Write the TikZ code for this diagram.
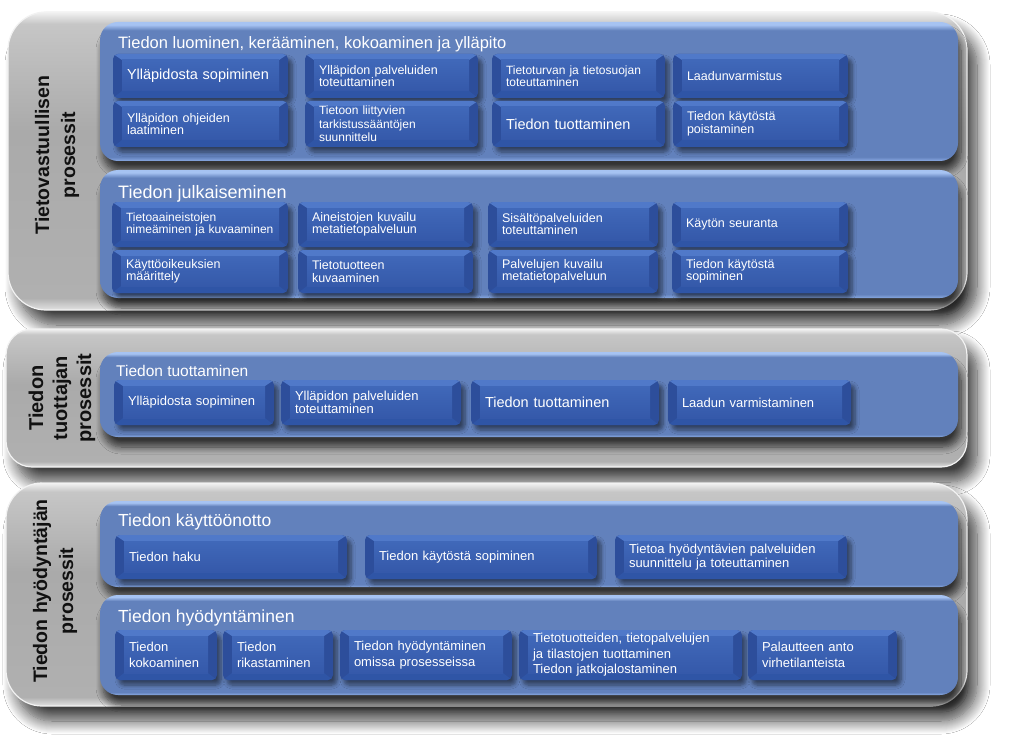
\documentclass[tikz,border=0pt]{standalone}
\usepackage{fontspec}
\setmainfont{Liberation Sans}
\usetikzlibrary{shadows.blur}

\definecolor{gpRim}{HTML}{F2F2F2}
\definecolor{gpTop}{HTML}{C6C6C6}
\definecolor{gpMid}{HTML}{AAAAAA}
\definecolor{gpLow}{HTML}{B0B0B0}
\definecolor{gpBot}{HTML}{E2E2E2}
\definecolor{spMid}{HTML}{6281BC}
\definecolor{spHi}{HTML}{A6C3F2}
\definecolor{spBot}{HTML}{8AAAE2}
\definecolor{bxTop}{HTML}{5079C9}
\definecolor{bxBot}{HTML}{2F55A6}
\definecolor{bxSide}{HTML}{2D4E9B}
\definecolor{bxFaceT}{HTML}{4068B9}
\definecolor{bxFaceB}{HTML}{3559AA}
\definecolor{lblText}{HTML}{111111}

\pgfdeclareverticalshading{graypanel}{100bp}{color(0bp)=(gpBot); color(25bp)=(gpBot); color(27bp)=(gpLow); color(55bp)=(gpMid); color(73bp)=(gpTop); color(75bp)=(gpRim); color(100bp)=(gpRim)}
\pgfdeclareverticalshading{bluepanel}{100bp}{color(0bp)=(spBot); color(25bp)=(spBot); color(26.5bp)=(spMid); color(72bp)=(spMid); color(74bp)=(spHi); color(75bp)=(spHi); color(100bp)=(spHi)}

\newcommand{\fsz}[2]{\fontsize{#1}{#2}\selectfont}
% \pcbox[options]{name}{left}{right}{ycenter}{height}{text}
\newcommand{\pcbox}[7][]{%
  \pgfmathsetmacro\pcbw{#4-#3}%
  \pgfmathsetmacro\pcbx{(#3+#4)/2}%
  \pgfmathsetmacro\pcbt{#4-#3-28}%
  \node[pbox, font=\fsz{12.5}{12.5}, #1, minimum width=\pcbw pt, minimum height=#6pt, text width=\pcbt pt] (#2) at (\pcbx,#5) {#7};%
}

\tikzset{
  gpanel/.style={shading=graypanel, draw=gpRim, line width=1.2pt,
    blur shadow={shadow xshift=10pt, shadow yshift=-15pt, shadow blur radius=13pt, shadow blur steps=14, shadow opacity=75}},
  spanel/.style={shading=bluepanel, rounded corners=18pt,
    blur shadow={shadow xshift=3pt, shadow yshift=-10pt, shadow blur radius=7pt, shadow blur steps=9, shadow opacity=70}},
  pbox/.style={rounded corners=5pt, fill=bxSide, text=white, align=left, inner xsep=14pt, inner ysep=1pt,
    blur shadow={shadow xshift=4pt, shadow yshift=-5pt, shadow blur radius=4pt, shadow blur steps=6, shadow opacity=50},
    path picture={
      \coordinate (q1) at (path picture bounding box.north west);
      \coordinate (q2) at (path picture bounding box.north east);
      \coordinate (q3) at (path picture bounding box.south east);
      \coordinate (q4) at (path picture bounding box.south west);
      \fill[bxTop, sharp corners] (q1) -- (q2) -- ([xshift=-9pt,yshift=-6pt]q2) -- ([xshift=9pt,yshift=-6pt]q1) -- cycle;
      \fill[bxBot, sharp corners] (q4) -- (q3) -- ([xshift=-9pt,yshift=7pt]q3) -- ([xshift=9pt,yshift=7pt]q4) -- cycle;
      \shade[sharp corners, top color=bxFaceT, bottom color=bxFaceB] ([xshift=9pt,yshift=-6pt]q1) rectangle ([xshift=-9pt,yshift=7pt]q3);
    }},
  ptitle/.style={anchor=west, inner sep=0pt, text=white},
  vlabel/.style={rotate=90, align=center, text=lblText, inner sep=0pt, font=\bfseries\fsz{19.5}{26}}
}

\begin{document}
\begin{tikzpicture}[x=1pt,y=-1pt]
\useasboundingbox[fill=white] (0,0) rectangle (1019,754);

% outer grey panels
\node[gpanel, rounded corners=38pt, minimum width=959pt, minimum height=298pt] (g1) at (487.5,161) {};
\node[gpanel, rounded corners=26pt, minimum width=961pt, minimum height=138pt] (g2) at (486.5,398) {};
\node[gpanel, rounded corners=36pt, minimum width=961pt, minimum height=223pt] (g3) at (486.5,594.5) {};

% blue sub panels
\node[spanel, minimum width=858pt, minimum height=139pt] (p1a) at (529,91.5) {};
\node[spanel, minimum width=858pt, minimum height=128pt] (p1b) at (529,234) {};
\node[spanel, minimum width=858pt, minimum height=85pt] (p2a) at (529,394.5) {};
\node[spanel, minimum width=858pt, minimum height=86pt] (p3a) at (529,544) {};
\node[spanel, minimum width=858pt, minimum height=100pt] (p3b) at (529,645) {};

% vertical labels
\node[vlabel] (l1) at (57,155) {Tietovastuullisen\\prosessit};
\node[vlabel, font=\bfseries\fsz{20}{24}] (l2) at (62,398) {Tiedon\\tuottajan\\prosessit};
\node[vlabel] (l3) at (55,591) {Tiedon hyödyntäjän\\prosessit};

% titles
\node[ptitle, font=\fsz{16.5}{18}] (t1a) at (118,44.5) {Tiedon luominen, kerääminen, kokoaminen ja ylläpito};
\node[ptitle, font=\fsz{18}{20}] (t1b) at (118,194) {Tiedon julkaiseminen};
\node[ptitle, font=\fsz{15.5}{18}] (t2a) at (116,371) {Tiedon tuottaminen};
\node[ptitle, font=\fsz{17.5}{20}] (t3a) at (118,522) {Tiedon käyttöönotto};
\node[ptitle, font=\fsz{17.5}{20}] (t3b) at (118,618) {Tiedon hyödyntäminen};

% panel 1a boxes
\pcbox[font=\fsz{14.5}{16}]{b11}{113}{288}{76}{44}{Ylläpidosta sopiminen}
\pcbox{b12}{305}{478}{76}{44}{Ylläpidon palveluiden\\toteuttaminen}
\pcbox[font=\fsz{12}{12}]{b13}{492}{665}{76}{44}{Tietoturvan ja tietosuojan\\toteuttaminen}
\pcbox{b14}{673}{848}{76}{44}{Laadunvarmistus}
\pcbox{b15}{113}{288}{124}{46}{Ylläpidon ohjeiden\\laatiminen}
\pcbox[font=\fsz{12}{13.5}]{b16}{305}{478}{124}{46}{Tietoon liittyvien\\tarkistussääntöjen\\suunnittelu}
\pcbox[font=\fsz{14.5}{16}]{b17}{492}{665}{124}{46}{Tiedon tuottaminen}
\pcbox{b18}{673}{848}{124}{46}{Tiedon käytöstä\\poistaminen}

% panel 1b boxes
\pcbox[font=\fsz{12}{11.5}]{b21}{112}{288}{224.5}{45}{Tietoaaineistojen\\nimeäminen ja kuvaaminen}
\pcbox[font=\fsz{12.5}{12}]{b22}{298}{473}{224.5}{45}{Aineistojen kuvailu\\metatietopalveluun}
\pcbox[font=\fsz{12.5}{12}]{b23}{488}{658}{224.5}{45}{Sisältöpalveluiden\\toteuttaminen}
\pcbox{b24}{672}{848}{224.5}{45}{Käytön seuranta}
\pcbox{b25}{112}{288}{271.5}{43}{Käyttöoikeuksien\\määrittely}
\pcbox{b26}{298}{473}{271.5}{43}{Tietotuotteen\\kuvaaminen}
\pcbox{b27}{488}{658}{271.5}{43}{Palvelujen kuvailu\\metatietopalveluun}
\pcbox{b28}{672}{848}{271.5}{43}{Tiedon käytöstä\\sopiminen}

% panel 2a boxes
\pcbox[font=\fsz{13}{13}]{b31}{114}{274}{402.5}{45}{Ylläpidosta sopiminen}
\pcbox[font=\fsz{13}{13}]{b32}{281}{461}{402.5}{45}{Ylläpidon palveluiden\\toteuttaminen}
\pcbox[font=\fsz{14.5}{16}]{b33}{471}{659}{402.5}{45}{Tiedon tuottaminen}
\pcbox[font=\fsz{13}{13}]{b34}{668}{851}{402.5}{45}{Laadun varmistaminen}

% panel 3a boxes
\pcbox[font=\fsz{13}{14}]{b41}{115}{347}{557}{44}{Tiedon haku}
\pcbox[font=\fsz{13}{14}]{b42}{365}{597}{557}{44}{Tiedon käytöstä sopiminen}
\pcbox[font=\fsz{13}{14}]{b43}{615}{847}{557}{44}{Tietoa hyödyntävien palveluiden\\suunnittelu ja toteuttaminen}

% panel 3b boxes
\pcbox[font=\fsz{13}{16}]{b51}{115}{217}{655}{50}{Tiedon\\kokoaminen}
\pcbox[font=\fsz{13}{16}]{b52}{223}{333}{655}{50}{Tiedon\\rikastaminen}
\pcbox[font=\fsz{13}{16}]{b53}{340}{512}{655}{50}{Tiedon hyödyntäminen\\omissa prosesseissa}
\pcbox[font=\fsz{13}{15.5}, inner ysep=0pt]{b54}{519}{742}{655}{50}{Tietotuotteiden, tietopalvelujen\\ja tilastojen tuottaminen\\Tiedon jatkojalostaminen}
\pcbox[font=\fsz{13}{16}]{b55}{748}{897}{655}{50}{Palautteen anto\\virhetilanteista}
\end{tikzpicture}
\end{document}
